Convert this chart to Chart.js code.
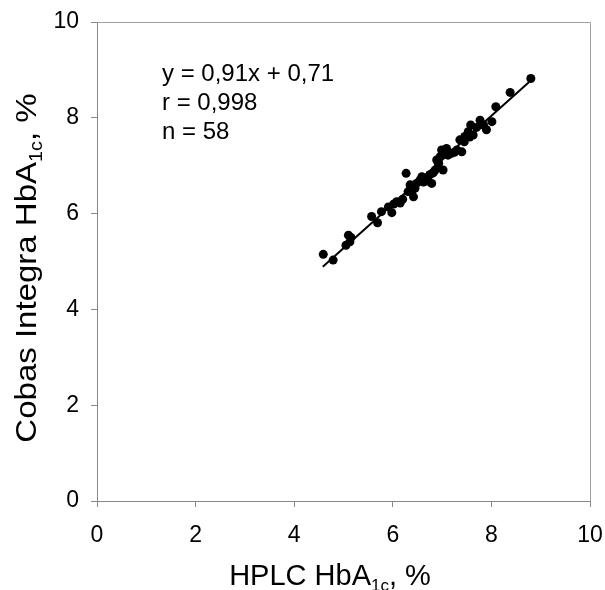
<!DOCTYPE html>
<html>
<head>
<meta charset="utf-8">
<script src="https://cdn.jsdelivr.net/npm/chart.js@4.4.1/dist/chart.umd.min.js"></script>
<style>
    html, body { margin: 0; padding: 0; background: #fff; }
    #wrap { width: 605px; height: 590px; }
</style>
</head>
<body>
<div id="wrap"><canvas id="chart" width="605" height="590"></canvas></div>
<script>
// HPLC HbA1c (x) vs Cobas Integra HbA1c (y)
const hplcValues = [4.59, 4.79, 5.10, 5.13, 5.05, 5.15, 5.57, 5.69, 5.77, 5.91, 5.98, 6.02, 6.08, 6.15, 6.20,
    6.27, 6.31, 6.35, 6.42, 6.38, 6.45, 6.48, 6.59, 6.55, 6.62, 6.69, 6.70, 6.75, 6.79, 6.86, 6.82,
    6.89, 6.92, 6.93, 6.96, 6.99, 7.02, 7.06, 7.09, 7.12, 7.19, 7.25, 7.30, 7.36, 7.40, 7.45, 7.46,
    7.53, 7.56, 7.58, 7.63, 7.70, 7.77, 7.84, 7.90, 8.01, 8.09, 8.38, 8.80];
const cobasValues = [5.15, 5.03, 5.55, 5.41, 5.34, 5.50, 5.94, 5.81, 6.04, 6.14, 6.02, 6.20, 6.25, 6.22, 6.30,
    6.84, 6.46, 6.60, 6.35, 6.45, 6.53, 6.63, 6.77, 6.70, 6.66, 6.74, 6.68, 6.81, 6.63, 6.91, 6.85,
    7.12, 6.98, 7.05, 7.19, 7.33, 6.91, 7.26, 7.36, 7.22, 7.26, 7.28, 7.33, 7.54, 7.29, 7.50, 7.61,
    7.71, 7.60, 7.85, 7.64, 7.80, 7.95, 7.85, 7.75, 7.92, 8.23, 8.53, 8.82];

// regression line ends, as drawn
const fitX = [4.58, 8.76];
const fitY = [4.89, 8.74];

const axisTicks = [0, 2, 4, 6, 8, 10];
const statLines = ['y = 0,91x + 0,71', 'r = 0,998', 'n = 58'];

const FONT = '"Liberation Sans", Arial, sans-serif';

function pairs(xs, ys) {
    return xs.map((x, i) => ({ x: x, y: ys[i] }));
}

// draw "main" + subscript + "tail" centred on 0,0 (caller handles translate/rotate)
function drawSubText(ctx, main, sub, tail, size, subSize) {
    ctx.font = size + 'px ' + FONT;
    const w1 = ctx.measureText(main).width;
    const w3 = ctx.measureText(tail).width;
    ctx.font = subSize + 'px ' + FONT;
    const w2 = ctx.measureText(sub).width;
    let x = -(w1 + w2 + w3) / 2;
    ctx.textAlign = 'left';
    ctx.textBaseline = 'alphabetic';
    ctx.font = size + 'px ' + FONT;
    ctx.fillText(main, x, 0);
    x += w1;
    ctx.font = subSize + 'px ' + FONT;
    ctx.fillText(sub, x, 6);
    x += w2;
    ctx.font = size + 'px ' + FONT;
    ctx.fillText(tail, x, 0);
}

const decorPlugin = {
    id: 'decor',
    afterDraw(chart) {
        const ctx = chart.ctx;
        const a = chart.chartArea;
        ctx.save();
        // frame top / right
        ctx.strokeStyle = '#a0a0a0';
        ctx.lineWidth = 1;
        ctx.beginPath();
        ctx.moveTo(a.left, a.top + 0.5);
        ctx.lineTo(a.right + 0.5, a.top + 0.5);
        ctx.lineTo(a.right + 0.5, a.bottom);
        ctx.stroke();

        ctx.fillStyle = '#000';
        // stats text
        ctx.font = '24px ' + FONT;
        ctx.textAlign = 'left';
        ctx.textBaseline = 'middle';
        statLines.forEach((t, i) => ctx.fillText(t, 162, 74 + i * 29));

        // x title
        ctx.save();
        ctx.translate(330, 585);
        drawSubText(ctx, 'HPLC HbA', '1c', ', %', 29, 17);
        ctx.restore();

        // y title, a bit stretched along its length like the original
        ctx.save();
        ctx.translate(36, 268);
        ctx.rotate(-Math.PI / 2);
        ctx.scale(1.1, 1);
        drawSubText(ctx, 'Cobas Integra HbA', '1c', ', %', 30, 18);
        ctx.restore();
        ctx.restore();
    }
};

const tickFont = { family: FONT, size: 23 };

new Chart(document.getElementById('chart'), {
    type: 'scatter',
    data: {
        datasets: [
            {
                data: pairs(hplcValues, cobasValues),
                pointRadius: 4.5,
                pointBackgroundColor: '#000',
                pointBorderWidth: 0
            },
            {
                type: 'line',
                data: pairs(fitX, fitY),
                borderColor: '#000',
                borderWidth: 2,
                pointRadius: 0,
                fill: false
            }
        ]
    },
    options: {
        responsive: false,
        animation: false,
        layout: { autoPadding: false, padding: { top: 22, right: 15, left: 0, bottom: 0 } },
        plugins: {
            legend: { display: false },
            tooltip: { enabled: false }
        },
        scales: {
            x: {
                type: 'linear',
                min: 0,
                max: 10,
                afterBuildTicks: s => { s.ticks = axisTicks.map(v => ({ value: v })); },
                afterFit: s => { s.height = 89; s.paddingLeft = 0; s.paddingRight = 0; },
                ticks: { color: '#000', font: tickFont, padding: 15, maxRotation: 0 },
                grid: { drawOnChartArea: false, drawTicks: true, tickLength: 6, color: '#888' },
                border: { color: '#888', width: 1 }
            },
            y: {
                type: 'linear',
                min: 0,
                max: 10,
                afterBuildTicks: s => { s.ticks = axisTicks.map(v => ({ value: v })); },
                afterFit: s => { s.width = 97; s.paddingTop = 0; s.paddingBottom = 0; },
                ticks: { color: '#000', font: tickFont, padding: 12 },
                grid: { drawOnChartArea: false, drawTicks: true, tickLength: 6, color: '#888' },
                border: { color: '#888', width: 1 }
            }
        }
    },
    plugins: [decorPlugin]
});
</script>
</body>
</html>
